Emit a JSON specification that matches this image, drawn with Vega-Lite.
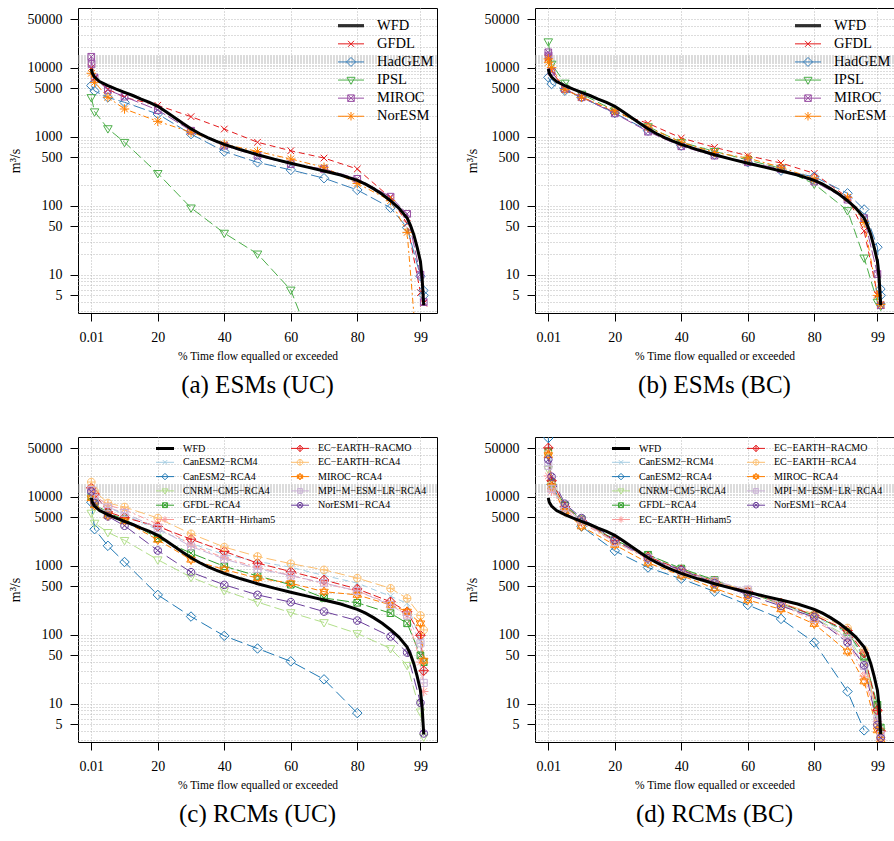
{
"$schema": "https://vega.github.io/schema/vega-lite/v6.json",
"padding": {"left": 7, "top": 7, "right": 0, "bottom": 0},
"background": "white",
"config": {
  "view": {"stroke": "black", "strokeWidth": 1},
  "font": "Liberation Serif",
  "axis": {"domain": false, "tickColor": "black", "tickSize": 8, "tickWidth": 1, "labelFont": "Liberation Serif", "labelFontSize": 14, "labelColor": "black", "titleFont": "Liberation Serif", "titleFontWeight": "normal", "titleColor": "black", "grid": true, "gridColor": "#b8b8b8", "gridDash": [1, 2], "gridWidth": 1, "labelOverlap": false, "labelFlush": false},
  "axisX": {"labelPadding": 9, "titleFontSize": 11.5, "titlePadding": 6},
  "axisY": {"labelPadding": 8, "titleFontSize": 14, "titlePadding": 5},
  "legend": {"padding": 0, "labelFont": "Liberation Serif", "labelColor": "black"}
},
"datasets": {
  "wfd": [
    {"pct":0.01,"flow":9600},{"pct":0.3,"flow":8300},{"pct":1,"flow":7300},{"pct":2.5,"flow":6300},{"pct":5,"flow":5500},{"pct":7.5,"flow":4900},{"pct":10,"flow":4400},{"pct":12.5,"flow":3950},{"pct":15,"flow":3500},{"pct":17.5,"flow":3150},{"pct":20,"flow":2750},{"pct":22.5,"flow":2300},{"pct":25,"flow":1900},{"pct":27.5,"flow":1560},{"pct":30,"flow":1300},{"pct":32.5,"flow":1110},{"pct":35,"flow":970},{"pct":37.5,"flow":860},{"pct":40,"flow":775},{"pct":45,"flow":645},{"pct":50,"flow":548},{"pct":55,"flow":472},{"pct":60,"flow":412},{"pct":65,"flow":362},{"pct":70,"flow":318},{"pct":75,"flow":278},{"pct":80,"flow":232},{"pct":82.5,"flow":205},{"pct":85,"flow":175},{"pct":87.5,"flow":146},{"pct":90,"flow":118},{"pct":92.5,"flow":92},{"pct":95,"flow":66},{"pct":96,"flow":52},{"pct":97,"flow":38},{"pct":98,"flow":25},{"pct":99,"flow":15.5},{"pct":99.5,"flow":9},{"pct":99.99,"flow":3.6}
  ],
  "esm_uc": [
    {"series":"GFDL","pct":0.01,"flow":10000},{"series":"GFDL","pct":1,"flow":7000},{"series":"GFDL","pct":5,"flow":4900},{"series":"GFDL","pct":10,"flow":3700},{"series":"GFDL","pct":20,"flow":2850},{"series":"GFDL","pct":30,"flow":1950},{"series":"GFDL","pct":40,"flow":1290},{"series":"GFDL","pct":50,"flow":830},{"series":"GFDL","pct":60,"flow":625},{"series":"GFDL","pct":70,"flow":490},{"series":"GFDL","pct":80,"flow":340},{"series":"GFDL","pct":90,"flow":130},{"series":"GFDL","pct":95,"flow":55},{"series":"GFDL","pct":99,"flow":5.5},{"series":"GFDL","pct":99.99,"flow":3.85},
    {"series":"HadGEM","pct":0.01,"flow":5500},{"series":"HadGEM","pct":1,"flow":4600},{"series":"HadGEM","pct":5,"flow":3700},{"series":"HadGEM","pct":10,"flow":3150},{"series":"HadGEM","pct":20,"flow":2130},{"series":"HadGEM","pct":30,"flow":1090},{"series":"HadGEM","pct":40,"flow":610},{"series":"HadGEM","pct":50,"flow":424},{"series":"HadGEM","pct":60,"flow":330},{"series":"HadGEM","pct":70,"flow":250},{"series":"HadGEM","pct":80,"flow":169},{"series":"HadGEM","pct":90,"flow":93},{"series":"HadGEM","pct":95,"flow":48},{"series":"HadGEM","pct":99,"flow":9.5},{"series":"HadGEM","pct":99.9,"flow":5.9},{"series":"HadGEM","pct":99.99,"flow":5.0},
    {"series":"IPSL","pct":0.01,"flow":3700},{"series":"IPSL","pct":1,"flow":2300},{"series":"IPSL","pct":5,"flow":1310},{"series":"IPSL","pct":10,"flow":830},{"series":"IPSL","pct":20,"flow":294},{"series":"IPSL","pct":30,"flow":93},{"series":"IPSL","pct":40,"flow":40},{"series":"IPSL","pct":50,"flow":20},{"series":"IPSL","pct":60,"flow":6},{"series":"IPSL","pct":70,"flow":0.35},
    {"series":"MIROC","pct":0.01,"flow":14400},{"series":"MIROC","pct":0.1,"flow":11300},{"series":"MIROC","pct":1,"flow":7240},{"series":"MIROC","pct":5,"flow":4750},{"series":"MIROC","pct":10,"flow":3800},{"series":"MIROC","pct":20,"flow":2430},{"series":"MIROC","pct":30,"flow":1220},{"series":"MIROC","pct":40,"flow":740},{"series":"MIROC","pct":50,"flow":530},{"series":"MIROC","pct":60,"flow":400},{"series":"MIROC","pct":70,"flow":340},{"series":"MIROC","pct":80,"flow":245},{"series":"MIROC","pct":90,"flow":135},{"series":"MIROC","pct":95,"flow":76},{"series":"MIROC","pct":99,"flow":10},{"series":"MIROC","pct":99.99,"flow":4},
    {"series":"NorESM","pct":0.01,"flow":8300},{"series":"NorESM","pct":1,"flow":6130},{"series":"NorESM","pct":5,"flow":3720},{"series":"NorESM","pct":10,"flow":2520},{"series":"NorESM","pct":20,"flow":1670},{"series":"NorESM","pct":30,"flow":1160},{"series":"NorESM","pct":40,"flow":780},{"series":"NorESM","pct":50,"flow":610},{"series":"NorESM","pct":60,"flow":475},{"series":"NorESM","pct":70,"flow":360},{"series":"NorESM","pct":80,"flow":210},{"series":"NorESM","pct":90,"flow":118},{"series":"NorESM","pct":95,"flow":41},{"series":"NorESM","pct":99,"flow":0.19}
  ],
  "esm_bc": [
    {"series":"GFDL","pct":0.01,"flow":14000},{"series":"GFDL","pct":1,"flow":9000},{"series":"GFDL","pct":5,"flow":4800},{"series":"GFDL","pct":10,"flow":3800},{"series":"GFDL","pct":20,"flow":2250},{"series":"GFDL","pct":30,"flow":1560},{"series":"GFDL","pct":40,"flow":957},{"series":"GFDL","pct":50,"flow":700},{"series":"GFDL","pct":60,"flow":530},{"series":"GFDL","pct":70,"flow":415},{"series":"GFDL","pct":80,"flow":294},{"series":"GFDL","pct":90,"flow":132},{"series":"GFDL","pct":95,"flow":43},{"series":"GFDL","pct":99,"flow":5.2},{"series":"GFDL","pct":99.99,"flow":3.6},
    {"series":"HadGEM","pct":0.01,"flow":7240},{"series":"HadGEM","pct":1,"flow":5800},{"series":"HadGEM","pct":5,"flow":4640},{"series":"HadGEM","pct":10,"flow":3720},{"series":"HadGEM","pct":20,"flow":2200},{"series":"HadGEM","pct":30,"flow":1220},{"series":"HadGEM","pct":40,"flow":740},{"series":"HadGEM","pct":50,"flow":549},{"series":"HadGEM","pct":60,"flow":425},{"series":"HadGEM","pct":70,"flow":322},{"series":"HadGEM","pct":80,"flow":263},{"series":"HadGEM","pct":90,"flow":151},{"series":"HadGEM","pct":95,"flow":88},{"series":"HadGEM","pct":99,"flow":25},{"series":"HadGEM","pct":99.9,"flow":6.2},{"series":"HadGEM","pct":99.99,"flow":5.0},
    {"series":"IPSL","pct":0.01,"flow":23800},{"series":"IPSL","pct":1,"flow":11300},{"series":"IPSL","pct":5,"flow":6000},{"series":"IPSL","pct":10,"flow":4150},{"series":"IPSL","pct":20,"flow":2380},{"series":"IPSL","pct":30,"flow":1400},{"series":"IPSL","pct":40,"flow":830},{"series":"IPSL","pct":50,"flow":613},{"series":"IPSL","pct":60,"flow":459},{"series":"IPSL","pct":70,"flow":348},{"series":"IPSL","pct":80,"flow":206},{"series":"IPSL","pct":90,"flow":85},{"series":"IPSL","pct":95,"flow":17.5},{"series":"IPSL","pct":99,"flow":4.0},{"series":"IPSL","pct":99.99,"flow":3.5},
    {"series":"MIROC","pct":0.01,"flow":16700},{"series":"MIROC","pct":0.1,"flow":15000},{"series":"MIROC","pct":1,"flow":8750},{"series":"MIROC","pct":5,"flow":4900},{"series":"MIROC","pct":10,"flow":3720},{"series":"MIROC","pct":20,"flow":2170},{"series":"MIROC","pct":30,"flow":1180},{"series":"MIROC","pct":40,"flow":725},{"series":"MIROC","pct":50,"flow":531},{"series":"MIROC","pct":60,"flow":425},{"series":"MIROC","pct":70,"flow":340},{"series":"MIROC","pct":80,"flow":223},{"series":"MIROC","pct":90,"flow":122},{"series":"MIROC","pct":95,"flow":66},{"series":"MIROC","pct":99,"flow":10.2},{"series":"MIROC","pct":99.99,"flow":3.6},
    {"series":"NorESM","pct":0.01,"flow":13400},{"series":"NorESM","pct":0.1,"flow":12000},{"series":"NorESM","pct":1,"flow":10000},{"series":"NorESM","pct":5,"flow":4800},{"series":"NorESM","pct":10,"flow":3720},{"series":"NorESM","pct":20,"flow":2380},{"series":"NorESM","pct":30,"flow":1370},{"series":"NorESM","pct":40,"flow":830},{"series":"NorESM","pct":50,"flow":590},{"series":"NorESM","pct":60,"flow":490},{"series":"NorESM","pct":70,"flow":360},{"series":"NorESM","pct":80,"flow":245},{"series":"NorESM","pct":90,"flow":132},{"series":"NorESM","pct":95,"flow":57},{"series":"NorESM","pct":99,"flow":5.0},{"series":"NorESM","pct":99.99,"flow":3.7}
  ],
  "rcm_uc": [
    {"series":"CanESM2−RCM4","pct":0.01,"flow":12000},{"series":"CanESM2−RCM4","pct":1,"flow":10000},{"series":"CanESM2−RCM4","pct":5,"flow":7000},{"series":"CanESM2−RCM4","pct":10,"flow":5500},{"series":"CanESM2−RCM4","pct":20,"flow":3300},{"series":"CanESM2−RCM4","pct":30,"flow":2100},{"series":"CanESM2−RCM4","pct":40,"flow":1450},{"series":"CanESM2−RCM4","pct":50,"flow":1150},{"series":"CanESM2−RCM4","pct":60,"flow":950},{"series":"CanESM2−RCM4","pct":70,"flow":720},{"series":"CanESM2−RCM4","pct":80,"flow":560},{"series":"CanESM2−RCM4","pct":90,"flow":360},{"series":"CanESM2−RCM4","pct":95,"flow":285},{"series":"CanESM2−RCM4","pct":99,"flow":80},{"series":"CanESM2−RCM4","pct":99.99,"flow":30},
    {"series":"CanESM2−RCA4","pct":0.01,"flow":8300},{"series":"CanESM2−RCA4","pct":1,"flow":3380},{"series":"CanESM2−RCA4","pct":5,"flow":1940},{"series":"CanESM2−RCA4","pct":10,"flow":1130},{"series":"CanESM2−RCA4","pct":20,"flow":377},{"series":"CanESM2−RCA4","pct":30,"flow":183},{"series":"CanESM2−RCA4","pct":40,"flow":96},{"series":"CanESM2−RCA4","pct":50,"flow":63},{"series":"CanESM2−RCA4","pct":60,"flow":41},{"series":"CanESM2−RCA4","pct":70,"flow":22.5},{"series":"CanESM2−RCA4","pct":80,"flow":7.3},
    {"series":"CNRM−CM5−RCA4","pct":0.01,"flow":5790},{"series":"CNRM−CM5−RCA4","pct":1,"flow":4140},{"series":"CNRM−CM5−RCA4","pct":5,"flow":3040},{"series":"CNRM−CM5−RCA4","pct":10,"flow":2330},{"series":"CNRM−CM5−RCA4","pct":20,"flow":1220},{"series":"CNRM−CM5−RCA4","pct":30,"flow":680},{"series":"CNRM−CM5−RCA4","pct":40,"flow":435},{"series":"CNRM−CM5−RCA4","pct":50,"flow":296},{"series":"CNRM−CM5−RCA4","pct":60,"flow":209},{"series":"CNRM−CM5−RCA4","pct":70,"flow":150},{"series":"CNRM−CM5−RCA4","pct":80,"flow":104},{"series":"CNRM−CM5−RCA4","pct":90,"flow":63},{"series":"CNRM−CM5−RCA4","pct":95,"flow":36},{"series":"CNRM−CM5−RCA4","pct":99,"flow":7.6},{"series":"CNRM−CM5−RCA4","pct":99.99,"flow":3.3},
    {"series":"GFDL−RCA4","pct":0.01,"flow":10000},{"series":"GFDL−RCA4","pct":1,"flow":8000},{"series":"GFDL−RCA4","pct":5,"flow":5800},{"series":"GFDL−RCA4","pct":10,"flow":4700},{"series":"GFDL−RCA4","pct":20,"flow":2500},{"series":"GFDL−RCA4","pct":30,"flow":1520},{"series":"GFDL−RCA4","pct":40,"flow":980},{"series":"GFDL−RCA4","pct":50,"flow":710},{"series":"GFDL−RCA4","pct":60,"flow":530},{"series":"GFDL−RCA4","pct":70,"flow":340},{"series":"GFDL−RCA4","pct":80,"flow":290},{"series":"GFDL−RCA4","pct":90,"flow":205},{"series":"GFDL−RCA4","pct":95,"flow":146},{"series":"GFDL−RCA4","pct":99,"flow":50},{"series":"GFDL−RCA4","pct":99.99,"flow":40},
    {"series":"EC−EARTH−Hirham5","pct":0.01,"flow":13000},{"series":"EC−EARTH−Hirham5","pct":1,"flow":10500},{"series":"EC−EARTH−Hirham5","pct":5,"flow":7500},{"series":"EC−EARTH−Hirham5","pct":10,"flow":6500},{"series":"EC−EARTH−Hirham5","pct":20,"flow":4000},{"series":"EC−EARTH−Hirham5","pct":30,"flow":2000},{"series":"EC−EARTH−Hirham5","pct":40,"flow":1300},{"series":"EC−EARTH−Hirham5","pct":50,"flow":950},{"series":"EC−EARTH−Hirham5","pct":60,"flow":720},{"series":"EC−EARTH−Hirham5","pct":70,"flow":550},{"series":"EC−EARTH−Hirham5","pct":80,"flow":430},{"series":"EC−EARTH−Hirham5","pct":90,"flow":280},{"series":"EC−EARTH−Hirham5","pct":95,"flow":190},{"series":"EC−EARTH−Hirham5","pct":99,"flow":40},{"series":"EC−EARTH−Hirham5","pct":99.99,"flow":15},
    {"series":"EC−EARTH−RACMO","pct":0.01,"flow":13400},{"series":"EC−EARTH−RACMO","pct":1,"flow":11000},{"series":"EC−EARTH−RACMO","pct":5,"flow":6000},{"series":"EC−EARTH−RACMO","pct":10,"flow":5000},{"series":"EC−EARTH−RACMO","pct":20,"flow":3700},{"series":"EC−EARTH−RACMO","pct":30,"flow":2420},{"series":"EC−EARTH−RACMO","pct":40,"flow":1610},{"series":"EC−EARTH−RACMO","pct":50,"flow":1090},{"series":"EC−EARTH−RACMO","pct":60,"flow":820},{"series":"EC−EARTH−RACMO","pct":70,"flow":620},{"series":"EC−EARTH−RACMO","pct":80,"flow":460},{"series":"EC−EARTH−RACMO","pct":90,"flow":300},{"series":"EC−EARTH−RACMO","pct":95,"flow":215},{"series":"EC−EARTH−RACMO","pct":99,"flow":98},{"series":"EC−EARTH−RACMO","pct":99.99,"flow":30},
    {"series":"EC−EARTH−RCA4","pct":0.01,"flow":16300},{"series":"EC−EARTH−RCA4","pct":1,"flow":12000},{"series":"EC−EARTH−RCA4","pct":5,"flow":8100},{"series":"EC−EARTH−RCA4","pct":10,"flow":7080},{"series":"EC−EARTH−RCA4","pct":20,"flow":4900},{"series":"EC−EARTH−RCA4","pct":30,"flow":2900},{"series":"EC−EARTH−RCA4","pct":40,"flow":1860},{"series":"EC−EARTH−RCA4","pct":50,"flow":1360},{"series":"EC−EARTH−RCA4","pct":60,"flow":1070},{"series":"EC−EARTH−RCA4","pct":70,"flow":870},{"series":"EC−EARTH−RCA4","pct":80,"flow":660},{"series":"EC−EARTH−RCA4","pct":90,"flow":470},{"series":"EC−EARTH−RCA4","pct":95,"flow":335},{"series":"EC−EARTH−RCA4","pct":99,"flow":190},{"series":"EC−EARTH−RCA4","pct":99.99,"flow":117},
    {"series":"MIROC−RCA4","pct":0.01,"flow":9500},{"series":"MIROC−RCA4","pct":1,"flow":7500},{"series":"MIROC−RCA4","pct":5,"flow":5300},{"series":"MIROC−RCA4","pct":10,"flow":4400},{"series":"MIROC−RCA4","pct":20,"flow":2370},{"series":"MIROC−RCA4","pct":30,"flow":1220},{"series":"MIROC−RCA4","pct":40,"flow":880},{"series":"MIROC−RCA4","pct":50,"flow":660},{"series":"MIROC−RCA4","pct":60,"flow":557},{"series":"MIROC−RCA4","pct":70,"flow":420},{"series":"MIROC−RCA4","pct":80,"flow":377},{"series":"MIROC−RCA4","pct":90,"flow":270},{"series":"MIROC−RCA4","pct":95,"flow":216},{"series":"MIROC−RCA4","pct":99,"flow":146},{"series":"MIROC−RCA4","pct":99.99,"flow":42},
    {"series":"MPI−M−ESM−LR−RCA4","pct":0.01,"flow":12500},{"series":"MPI−M−ESM−LR−RCA4","pct":1,"flow":9500},{"series":"MPI−M−ESM−LR−RCA4","pct":5,"flow":7000},{"series":"MPI−M−ESM−LR−RCA4","pct":10,"flow":5800},{"series":"MPI−M−ESM−LR−RCA4","pct":20,"flow":3500},{"series":"MPI−M−ESM−LR−RCA4","pct":30,"flow":1900},{"series":"MPI−M−ESM−LR−RCA4","pct":40,"flow":1250},{"series":"MPI−M−ESM−LR−RCA4","pct":50,"flow":900},{"series":"MPI−M−ESM−LR−RCA4","pct":60,"flow":720},{"series":"MPI−M−ESM−LR−RCA4","pct":70,"flow":560},{"series":"MPI−M−ESM−LR−RCA4","pct":80,"flow":430},{"series":"MPI−M−ESM−LR−RCA4","pct":90,"flow":270},{"series":"MPI−M−ESM−LR−RCA4","pct":95,"flow":190},{"series":"MPI−M−ESM−LR−RCA4","pct":99,"flow":75},{"series":"MPI−M−ESM−LR−RCA4","pct":99.99,"flow":20},
    {"series":"NorESM1−RCA4","pct":0.01,"flow":11900},{"series":"NorESM1−RCA4","pct":1,"flow":8090},{"series":"NorESM1−RCA4","pct":5,"flow":5180},{"series":"NorESM1−RCA4","pct":10,"flow":3790},{"series":"NorESM1−RCA4","pct":20,"flow":1660},{"series":"NorESM1−RCA4","pct":30,"flow":805},{"series":"NorESM1−RCA4","pct":40,"flow":527},{"series":"NorESM1−RCA4","pct":50,"flow":377},{"series":"NorESM1−RCA4","pct":60,"flow":296},{"series":"NorESM1−RCA4","pct":70,"flow":216},{"series":"NorESM1−RCA4","pct":80,"flow":160},{"series":"NorESM1−RCA4","pct":90,"flow":94},{"series":"NorESM1−RCA4","pct":95,"flow":55},{"series":"NorESM1−RCA4","pct":99,"flow":10.3},{"series":"NorESM1−RCA4","pct":99.99,"flow":3.7}
  ],
  "rcm_bc": [
    {"series":"CanESM2−RCM4","pct":0.01,"flow":30000},{"series":"CanESM2−RCM4","pct":1,"flow":13000},{"series":"CanESM2−RCM4","pct":5,"flow":6800},{"series":"CanESM2−RCM4","pct":10,"flow":4400},{"series":"CanESM2−RCM4","pct":20,"flow":2300},{"series":"CanESM2−RCM4","pct":30,"flow":1450},{"series":"CanESM2−RCM4","pct":40,"flow":880},{"series":"CanESM2−RCM4","pct":50,"flow":600},{"series":"CanESM2−RCM4","pct":60,"flow":420},{"series":"CanESM2−RCM4","pct":70,"flow":280},{"series":"CanESM2−RCM4","pct":80,"flow":185},{"series":"CanESM2−RCM4","pct":90,"flow":105},{"series":"CanESM2−RCM4","pct":95,"flow":45},{"series":"CanESM2−RCM4","pct":99,"flow":7},{"series":"CanESM2−RCM4","pct":99.99,"flow":3.8},
    {"series":"CanESM2−RCA4","pct":0.01,"flow":71000},{"series":"CanESM2−RCA4","pct":1,"flow":15000},{"series":"CanESM2−RCA4","pct":5,"flow":6500},{"series":"CanESM2−RCA4","pct":10,"flow":3700},{"series":"CanESM2−RCA4","pct":20,"flow":1640},{"series":"CanESM2−RCA4","pct":30,"flow":940},{"series":"CanESM2−RCA4","pct":40,"flow":645},{"series":"CanESM2−RCA4","pct":50,"flow":422},{"series":"CanESM2−RCA4","pct":60,"flow":270},{"series":"CanESM2−RCA4","pct":70,"flow":169},{"series":"CanESM2−RCA4","pct":80,"flow":77},{"series":"CanESM2−RCA4","pct":90,"flow":15},{"series":"CanESM2−RCA4","pct":95,"flow":4.1},
    {"series":"CNRM−CM5−RCA4","pct":0.01,"flow":25000},{"series":"CNRM−CM5−RCA4","pct":1,"flow":14000},{"series":"CNRM−CM5−RCA4","pct":5,"flow":7300},{"series":"CNRM−CM5−RCA4","pct":10,"flow":4600},{"series":"CNRM−CM5−RCA4","pct":20,"flow":2300},{"series":"CNRM−CM5−RCA4","pct":30,"flow":1350},{"series":"CNRM−CM5−RCA4","pct":40,"flow":880},{"series":"CNRM−CM5−RCA4","pct":50,"flow":600},{"series":"CNRM−CM5−RCA4","pct":60,"flow":420},{"series":"CNRM−CM5−RCA4","pct":70,"flow":270},{"series":"CNRM−CM5−RCA4","pct":80,"flow":175},{"series":"CNRM−CM5−RCA4","pct":90,"flow":95},{"series":"CNRM−CM5−RCA4","pct":95,"flow":40},{"series":"CNRM−CM5−RCA4","pct":99,"flow":7},{"series":"CNRM−CM5−RCA4","pct":99.99,"flow":4},
    {"series":"GFDL−RCA4","pct":0.01,"flow":45000},{"series":"GFDL−RCA4","pct":1,"flow":16000},{"series":"GFDL−RCA4","pct":5,"flow":7500},{"series":"GFDL−RCA4","pct":10,"flow":4700},{"series":"GFDL−RCA4","pct":20,"flow":2350},{"series":"GFDL−RCA4","pct":30,"flow":1440},{"series":"GFDL−RCA4","pct":40,"flow":910},{"series":"GFDL−RCA4","pct":50,"flow":620},{"series":"GFDL−RCA4","pct":60,"flow":410},{"series":"GFDL−RCA4","pct":70,"flow":280},{"series":"GFDL−RCA4","pct":80,"flow":190},{"series":"GFDL−RCA4","pct":90,"flow":110},{"series":"GFDL−RCA4","pct":95,"flow":48},{"series":"GFDL−RCA4","pct":99,"flow":9.6},{"series":"GFDL−RCA4","pct":99.99,"flow":4.5},
    {"series":"EC−EARTH−Hirham5","pct":0.01,"flow":20000},{"series":"EC−EARTH−Hirham5","pct":1,"flow":12000},{"series":"EC−EARTH−Hirham5","pct":5,"flow":6500},{"series":"EC−EARTH−Hirham5","pct":10,"flow":4200},{"series":"EC−EARTH−Hirham5","pct":20,"flow":2200},{"series":"EC−EARTH−Hirham5","pct":30,"flow":1250},{"series":"EC−EARTH−Hirham5","pct":40,"flow":800},{"series":"EC−EARTH−Hirham5","pct":50,"flow":560},{"series":"EC−EARTH−Hirham5","pct":60,"flow":430},{"series":"EC−EARTH−Hirham5","pct":70,"flow":270},{"series":"EC−EARTH−Hirham5","pct":80,"flow":160},{"series":"EC−EARTH−Hirham5","pct":90,"flow":85},{"series":"EC−EARTH−Hirham5","pct":95,"flow":25},{"series":"EC−EARTH−Hirham5","pct":99,"flow":5.5},{"series":"EC−EARTH−Hirham5","pct":99.99,"flow":3},
    {"series":"EC−EARTH−RACMO","pct":0.01,"flow":51000},{"series":"EC−EARTH−RACMO","pct":1,"flow":17000},{"series":"EC−EARTH−RACMO","pct":5,"flow":7200},{"series":"EC−EARTH−RACMO","pct":10,"flow":4500},{"series":"EC−EARTH−RACMO","pct":20,"flow":2300},{"series":"EC−EARTH−RACMO","pct":30,"flow":1350},{"series":"EC−EARTH−RACMO","pct":40,"flow":870},{"series":"EC−EARTH−RACMO","pct":50,"flow":590},{"series":"EC−EARTH−RACMO","pct":60,"flow":420},{"series":"EC−EARTH−RACMO","pct":70,"flow":290},{"series":"EC−EARTH−RACMO","pct":80,"flow":190},{"series":"EC−EARTH−RACMO","pct":90,"flow":115},{"series":"EC−EARTH−RACMO","pct":95,"flow":54},{"series":"EC−EARTH−RACMO","pct":99,"flow":8},{"series":"EC−EARTH−RACMO","pct":99.99,"flow":4},
    {"series":"EC−EARTH−RCA4","pct":0.01,"flow":42000},{"series":"EC−EARTH−RCA4","pct":1,"flow":15000},{"series":"EC−EARTH−RCA4","pct":5,"flow":7000},{"series":"EC−EARTH−RCA4","pct":10,"flow":4500},{"series":"EC−EARTH−RCA4","pct":20,"flow":2200},{"series":"EC−EARTH−RCA4","pct":30,"flow":1300},{"series":"EC−EARTH−RCA4","pct":40,"flow":820},{"series":"EC−EARTH−RCA4","pct":50,"flow":580},{"series":"EC−EARTH−RCA4","pct":60,"flow":440},{"series":"EC−EARTH−RCA4","pct":70,"flow":290},{"series":"EC−EARTH−RCA4","pct":80,"flow":200},{"series":"EC−EARTH−RCA4","pct":90,"flow":125},{"series":"EC−EARTH−RCA4","pct":95,"flow":60},{"series":"EC−EARTH−RCA4","pct":99,"flow":5},{"series":"EC−EARTH−RCA4","pct":99.99,"flow":3.3},
    {"series":"MIROC−RCA4","pct":0.01,"flow":40000},{"series":"MIROC−RCA4","pct":1,"flow":14000},{"series":"MIROC−RCA4","pct":5,"flow":6100},{"series":"MIROC−RCA4","pct":10,"flow":3700},{"series":"MIROC−RCA4","pct":20,"flow":2000},{"series":"MIROC−RCA4","pct":30,"flow":1100},{"series":"MIROC−RCA4","pct":40,"flow":720},{"series":"MIROC−RCA4","pct":50,"flow":470},{"series":"MIROC−RCA4","pct":60,"flow":318},{"series":"MIROC−RCA4","pct":70,"flow":233},{"series":"MIROC−RCA4","pct":80,"flow":143},{"series":"MIROC−RCA4","pct":90,"flow":57},{"series":"MIROC−RCA4","pct":95,"flow":21},{"series":"MIROC−RCA4","pct":99,"flow":4.1},{"series":"MIROC−RCA4","pct":99.99,"flow":3},
    {"series":"MPI−M−ESM−LR−RCA4","pct":0.01,"flow":28000},{"series":"MPI−M−ESM−LR−RCA4","pct":1,"flow":13000},{"series":"MPI−M−ESM−LR−RCA4","pct":5,"flow":7000},{"series":"MPI−M−ESM−LR−RCA4","pct":10,"flow":4500},{"series":"MPI−M−ESM−LR−RCA4","pct":20,"flow":2200},{"series":"MPI−M−ESM−LR−RCA4","pct":30,"flow":1300},{"series":"MPI−M−ESM−LR−RCA4","pct":40,"flow":840},{"series":"MPI−M−ESM−LR−RCA4","pct":50,"flow":600},{"series":"MPI−M−ESM−LR−RCA4","pct":60,"flow":450},{"series":"MPI−M−ESM−LR−RCA4","pct":70,"flow":280},{"series":"MPI−M−ESM−LR−RCA4","pct":80,"flow":170},{"series":"MPI−M−ESM−LR−RCA4","pct":90,"flow":90},{"series":"MPI−M−ESM−LR−RCA4","pct":95,"flow":35},{"series":"MPI−M−ESM−LR−RCA4","pct":99,"flow":6},{"series":"MPI−M−ESM−LR−RCA4","pct":99.99,"flow":3.5},
    {"series":"NorESM1−RCA4","pct":0.01,"flow":34500},{"series":"NorESM1−RCA4","pct":1,"flow":19500},{"series":"NorESM1−RCA4","pct":5,"flow":7900},{"series":"NorESM1−RCA4","pct":10,"flow":4900},{"series":"NorESM1−RCA4","pct":20,"flow":2370},{"series":"NorESM1−RCA4","pct":30,"flow":1280},{"series":"NorESM1−RCA4","pct":40,"flow":865},{"series":"NorESM1−RCA4","pct":50,"flow":560},{"series":"NorESM1−RCA4","pct":60,"flow":380},{"series":"NorESM1−RCA4","pct":70,"flow":260},{"series":"NorESM1−RCA4","pct":80,"flow":180},{"series":"NorESM1−RCA4","pct":90,"flow":77},{"series":"NorESM1−RCA4","pct":95,"flow":36},{"series":"NorESM1−RCA4","pct":99,"flow":4.9},{"series":"NorESM1−RCA4","pct":99.99,"flow":3.2}
  ]
},
"vconcat": [
 {"hconcat": [
  {
    "width": 359, "height": 305,
    "title": {"text": "(a) ESMs (UC)", "orient": "bottom", "font": "Liberation Serif", "fontSize": 25, "fontWeight": "normal", "color": "black", "offset": 11},
    "layer": [
      {"data": {"name": "esm_uc"}, "mark": {"type": "line", "clip": true, "strokeWidth": 1},
       "encoding": {
         "x": {"field": "pct", "type": "quantitative", "scale": {"domain": [-3.99, 103.98], "nice": false, "zero": false}, "axis": {"title": "\u0025 Time flow equalled or exceeded", "labelOverlap": false, "values": [0.01,10,20,30,40,50,60,70,80,90,99], "labelExpr": "indexof([0.01,10,20,30,40,50,60,70,80,90,99], datum.value) >= 0 ? '' + datum.value : ''"}},
         "y": {"field": "flow", "type": "quantitative", "scale": {"type": "log", "domain": [2.78, 73300], "nice": false}, "axis": {"title": "m³/s", "labelOverlap": false, "values": [3,4,5,6,7,8,9,10,20,30,40,50,60,70,80,90,100,200,300,400,500,600,700,800,900,1000,2000,3000,4000,5000,6000,7000,8000,9000,10000,10500,11000,11500,12000,12500,13000,13500,14000,14500,15000,15500,20000,30000,40000,50000], "labelExpr": "indexof([5,10,50,100,500,1000,5000,10000,50000], datum.value) >= 0 ? '' + datum.value : ''", "tickOpacity": {"condition": {"test": "indexof([5,10,50,100,500,1000,5000,10000,50000], datum.value) >= 0", "value": 1}, "value": 0}}},
         "color": {"field": "series", "type": "nominal", "scale": {"domain": ["WFD","GFDL","HadGEM","IPSL","MIROC","NorESM"], "range": ["#000000","#e41a1c","#377eb8","#4daf4a","#984ea3","#ff7f00"]},
           "legend": {"title": null, "orient": "none", "legendX": 265.75, "legendY": 10.5, "symbolSize": 100, "rowPadding": 3.1, "labelFontSize": 14.5, "labelOffset": 18.75, "symbolFillColor": "transparent", "symbolDash": [], "symbolOpacity": 1, "symbolStrokeWidth": 1,
             "symbolType": {"expr": "['M-2.6,-0.2H2.6M-2.6,0H2.6M-2.6,0.2H2.6','M-2.6,0H2.6M-0.6,-0.6L0.6,0.6M-0.6,0.6L0.6,-0.6','M-2.6,0H2.6M0,-0.9L0.9,0L0,0.9L-0.9,0Z','M-2.6,0H2.6M-0.8,-0.55H0.8L0,0.85Z','M-2.6,0H2.6M-0.65,-0.65H0.65V0.65H-0.65ZM-0.65,-0.65L0.65,0.65M-0.65,0.65L0.65,-0.65','M-2.6,0H2.6M-0.6,-0.6L0.6,0.6M-0.6,0.6L0.6,-0.6M0,-0.85V0.85'][indexof(['WFD','GFDL','HadGEM','IPSL','MIROC','NorESM'], datum.value)]"}}},
         "strokeDash": {"field": "series", "type": "nominal", "scale": {"domain": ["GFDL","HadGEM","IPSL","MIROC","NorESM"], "range": [[6,4],[12,4],[10,4],[12,3],[6,3,2,3]]}, "legend": null}
       }},
      {"data": {"name": "esm_uc"}, "mark": {"type": "point", "clip": true, "filled": false, "strokeWidth": 1, "size": 90, "opacity": 1},
       "encoding": {
         "x": {"field": "pct", "type": "quantitative"},
         "y": {"field": "flow", "type": "quantitative"},
         "color": {"field": "series", "type": "nominal"},
         "shape": {"field": "series", "type": "nominal", "scale": {"domain": ["GFDL","HadGEM","IPSL","MIROC","NorESM"], "range": ["M-0.7,-0.7L0.7,0.7M-0.7,0.7L0.7,-0.7","M0,-1L1,0L0,1L-1,0Z","M-0.9,-0.6L0.9,-0.6L0,0.95Z","M-0.7,-0.7H0.7V0.7H-0.7ZM-0.7,-0.7L0.7,0.7M-0.7,0.7L0.7,-0.7","M-0.7,-0.7L0.7,0.7M-0.7,0.7L0.7,-0.7M0,-1V1M-1,0H1"]}, "legend": null}
       }},
      {"data": {"name": "wfd"}, "mark": {"type": "line", "clip": true, "color": "black", "strokeWidth": 3},
       "encoding": {"x": {"field": "pct", "type": "quantitative"}, "y": {"field": "flow", "type": "quantitative"}}}
    ]
  },
  {
    "width": 359, "height": 305,
    "title": {"text": "(b) ESMs (BC)", "orient": "bottom", "font": "Liberation Serif", "fontSize": 25, "fontWeight": "normal", "color": "black", "offset": 11},
    "layer": [
      {"data": {"name": "esm_bc"}, "mark": {"type": "line", "clip": true, "strokeWidth": 1},
       "encoding": {
         "x": {"field": "pct", "type": "quantitative", "scale": {"domain": [-3.99, 103.98], "nice": false, "zero": false}, "axis": {"title": "\u0025 Time flow equalled or exceeded", "labelOverlap": false, "values": [0.01,10,20,30,40,50,60,70,80,90,99], "labelExpr": "indexof([0.01,10,20,30,40,50,60,70,80,90,99], datum.value) >= 0 ? '' + datum.value : ''"}},
         "y": {"field": "flow", "type": "quantitative", "scale": {"type": "log", "domain": [2.78, 73300], "nice": false}, "axis": {"title": "m³/s", "labelOverlap": false, "values": [3,4,5,6,7,8,9,10,20,30,40,50,60,70,80,90,100,200,300,400,500,600,700,800,900,1000,2000,3000,4000,5000,6000,7000,8000,9000,10000,10500,11000,11500,12000,12500,13000,13500,14000,14500,15000,15500,20000,30000,40000,50000], "labelExpr": "indexof([5,10,50,100,500,1000,5000,10000,50000], datum.value) >= 0 ? '' + datum.value : ''", "tickOpacity": {"condition": {"test": "indexof([5,10,50,100,500,1000,5000,10000,50000], datum.value) >= 0", "value": 1}, "value": 0}}},
         "color": {"field": "series", "type": "nominal", "scale": {"domain": ["WFD","GFDL","HadGEM","IPSL","MIROC","NorESM"], "range": ["#000000","#e41a1c","#377eb8","#4daf4a","#984ea3","#ff7f00"]},
           "legend": {"title": null, "orient": "none", "legendX": 265.75, "legendY": 10.5, "symbolSize": 100, "rowPadding": 3.1, "labelFontSize": 14.5, "labelOffset": 18.75, "symbolFillColor": "transparent", "symbolDash": [], "symbolOpacity": 1, "symbolStrokeWidth": 1,
             "symbolType": {"expr": "['M-2.6,-0.2H2.6M-2.6,0H2.6M-2.6,0.2H2.6','M-2.6,0H2.6M-0.6,-0.6L0.6,0.6M-0.6,0.6L0.6,-0.6','M-2.6,0H2.6M0,-0.9L0.9,0L0,0.9L-0.9,0Z','M-2.6,0H2.6M-0.8,-0.55H0.8L0,0.85Z','M-2.6,0H2.6M-0.65,-0.65H0.65V0.65H-0.65ZM-0.65,-0.65L0.65,0.65M-0.65,0.65L0.65,-0.65','M-2.6,0H2.6M-0.6,-0.6L0.6,0.6M-0.6,0.6L0.6,-0.6M0,-0.85V0.85'][indexof(['WFD','GFDL','HadGEM','IPSL','MIROC','NorESM'], datum.value)]"}}},
         "strokeDash": {"field": "series", "type": "nominal", "scale": {"domain": ["GFDL","HadGEM","IPSL","MIROC","NorESM"], "range": [[6,4],[12,4],[10,4],[12,3],[6,3,2,3]]}, "legend": null}
       }},
      {"data": {"name": "esm_bc"}, "mark": {"type": "point", "clip": true, "filled": false, "strokeWidth": 1, "size": 90, "opacity": 1},
       "encoding": {
         "x": {"field": "pct", "type": "quantitative"},
         "y": {"field": "flow", "type": "quantitative"},
         "color": {"field": "series", "type": "nominal"},
         "shape": {"field": "series", "type": "nominal", "scale": {"domain": ["GFDL","HadGEM","IPSL","MIROC","NorESM"], "range": ["M-0.7,-0.7L0.7,0.7M-0.7,0.7L0.7,-0.7","M0,-1L1,0L0,1L-1,0Z","M-0.9,-0.6L0.9,-0.6L0,0.95Z","M-0.7,-0.7H0.7V0.7H-0.7ZM-0.7,-0.7L0.7,0.7M-0.7,0.7L0.7,-0.7","M-0.7,-0.7L0.7,0.7M-0.7,0.7L0.7,-0.7M0,-1V1M-1,0H1"]}, "legend": null}
       }},
      {"data": {"name": "wfd"}, "mark": {"type": "line", "clip": true, "color": "black", "strokeWidth": 3},
       "encoding": {"x": {"field": "pct", "type": "quantitative"}, "y": {"field": "flow", "type": "quantitative"}}}
    ]
  }
 ],
 "spacing": 98,
 "bounds": "flush",
 "resolve": {"scale": {"color": "independent", "shape": "independent", "strokeDash": "independent", "x": "independent", "y": "independent"}, "legend": {"color": "independent"}}
 },
 {"hconcat": [
  {
    "width": 359, "height": 305,
    "title": {"text": "(c) RCMs (UC)", "orient": "bottom", "font": "Liberation Serif", "fontSize": 25, "fontWeight": "normal", "color": "black", "offset": 11},
    "layer": [
      {"data": {"name": "rcm_uc"}, "mark": {"type": "line", "clip": true, "strokeWidth": 1},
       "encoding": {
         "x": {"field": "pct", "type": "quantitative", "scale": {"domain": [-3.99, 103.98], "nice": false, "zero": false}, "axis": {"title": "\u0025 Time flow equalled or exceeded", "labelOverlap": false, "values": [0.01,10,20,30,40,50,60,70,80,90,99], "labelExpr": "indexof([0.01,10,20,30,40,50,60,70,80,90,99], datum.value) >= 0 ? '' + datum.value : ''"}},
         "y": {"field": "flow", "type": "quantitative", "scale": {"type": "log", "domain": [2.78, 73300], "nice": false}, "axis": {"title": "m³/s", "labelOverlap": false, "values": [3,4,5,6,7,8,9,10,20,30,40,50,60,70,80,90,100,200,300,400,500,600,700,800,900,1000,2000,3000,4000,5000,6000,7000,8000,9000,10000,10500,11000,11500,12000,12500,13000,13500,14000,14500,15000,15500,20000,30000,40000,50000], "labelExpr": "indexof([5,10,50,100,500,1000,5000,10000,50000], datum.value) >= 0 ? '' + datum.value : ''", "tickOpacity": {"condition": {"test": "indexof([5,10,50,100,500,1000,5000,10000,50000], datum.value) >= 0", "value": 1}, "value": 0}}},
         "color": {"field": "series", "type": "nominal", "scale": {"domain": ["WFD","CanESM2−RCM4","CanESM2−RCA4","CNRM−CM5−RCA4","GFDL−RCA4","EC−EARTH−Hirham5","EC−EARTH−RACMO","EC−EARTH−RCA4","MIROC−RCA4","MPI−M−ESM−LR−RCA4","NorESM1−RCA4"], "range": ["#000000","#a6cee3","#1f78b4","#b2df8a","#33a02c","#fb9a99","#e31a1c","#fdbf6f","#ff7f00","#cab2d6","#6a3d9a"]},
           "legend": {"title": null, "orient": "none", "legendX": 82, "legendY": 6, "columns": 2, "direction": "vertical", "columnPadding": 13, "symbolSize": 64, "rowPadding": 3.3, "labelFontSize": 10, "labelOffset": 13, "symbolFillColor": "transparent", "symbolDash": [], "symbolOpacity": 1, "symbolStrokeWidth": 1,
             "symbolType": {"expr": "['M-2.25,-0.25H2.25M-2.25,0H2.25M-2.25,0.25H2.25','M-2.25,0H2.25M-0.55,-0.55L0.55,0.55M-0.55,0.55L0.55,-0.55','M-2.25,0H2.25M0,-0.8L0.8,0L0,0.8L-0.8,0Z','M-2.25,0H2.25M-0.75,-0.5H0.75L0,0.8Z','M-2.25,0H2.25M-0.6,-0.6H0.6V0.6H-0.6ZM-0.6,-0.6L0.6,0.6M-0.6,0.6L0.6,-0.6','M-2.25,0H2.25M-0.55,-0.55L0.55,0.55M-0.55,0.55L0.55,-0.55M0,-0.8V0.8','M-2.25,0H2.25M0,-0.8L0.8,0L0,0.8L-0.8,0ZM0,-0.8V0.8','M-2.25,0H2.25M-0.7,0A0.7,0.7 0 1,0 0.7,0A0.7,0.7 0 1,0 -0.7,0ZM0,-0.7V0.7','M-2.25,0H2.25M-0.75,0.4H0.75L0,-0.85ZM-0.75,-0.4H0.75L0,0.85Z','M-2.25,0H2.25M-0.6,-0.6H0.6V0.6H-0.6ZM0,-0.6V0.6','M-2.25,0H2.25M-0.7,0A0.7,0.7 0 1,0 0.7,0A0.7,0.7 0 1,0 -0.7,0ZM-0.5,-0.5L0.5,0.5M-0.5,0.5L0.5,-0.5'][indexof(['WFD','CanESM2−RCM4','CanESM2−RCA4','CNRM−CM5−RCA4','GFDL−RCA4','EC−EARTH−Hirham5','EC−EARTH−RACMO','EC−EARTH−RCA4','MIROC−RCA4','MPI−M−ESM−LR−RCA4','NorESM1−RCA4'], datum.value)]"}}},
         "strokeDash": {"field": "series", "type": "nominal", "scale": {"domain": ["CanESM2−RCM4","CanESM2−RCA4","CNRM−CM5−RCA4","GFDL−RCA4","EC−EARTH−Hirham5","EC−EARTH−RACMO","EC−EARTH−RCA4","MIROC−RCA4","MPI−M−ESM−LR−RCA4","NorESM1−RCA4"], "range": [[6,4],[12,5],[10,4],[12,3],[6,3,2,3],[8,3],[10,4],[6,3],[10,3],[12,5]]}, "legend": null}
       }},
      {"data": {"name": "rcm_uc"}, "mark": {"type": "point", "clip": true, "filled": false, "strokeWidth": 1, "size": 90, "opacity": 1},
       "encoding": {
         "x": {"field": "pct", "type": "quantitative"},
         "y": {"field": "flow", "type": "quantitative"},
         "color": {"field": "series", "type": "nominal"},
         "shape": {"field": "series", "type": "nominal", "scale": {"domain": ["CanESM2−RCM4","CanESM2−RCA4","CNRM−CM5−RCA4","GFDL−RCA4","EC−EARTH−Hirham5","EC−EARTH−RACMO","EC−EARTH−RCA4","MIROC−RCA4","MPI−M−ESM−LR−RCA4","NorESM1−RCA4"], "range": ["M-0.7,-0.7L0.7,0.7M-0.7,0.7L0.7,-0.7","M0,-1L1,0L0,1L-1,0Z","M-0.9,-0.6L0.9,-0.6L0,0.95Z","M-0.7,-0.7H0.7V0.7H-0.7ZM-0.7,-0.7L0.7,0.7M-0.7,0.7L0.7,-0.7","M-0.7,-0.7L0.7,0.7M-0.7,0.7L0.7,-0.7M0,-1V1M-1,0H1","M0,-1L1,0L0,1L-1,0ZM0,-1V1M-1,0H1","M-0.8,0A0.8,0.8 0 1,0 0.8,0A0.8,0.8 0 1,0 -0.8,0ZM0,-0.8V0.8M-0.8,0H0.8","M-0.9,0.5H0.9L0,-1ZM-0.9,-0.5H0.9L0,1Z","M-0.75,-0.75H0.75V0.75H-0.75ZM0,-0.75V0.75M-0.75,0H0.75","M-0.8,0A0.8,0.8 0 1,0 0.8,0A0.8,0.8 0 1,0 -0.8,0ZM-0.57,-0.57L0.57,0.57M-0.57,0.57L0.57,-0.57"]}, "legend": null}
       }},
      {"data": {"name": "wfd"}, "mark": {"type": "line", "clip": true, "color": "black", "strokeWidth": 3},
       "encoding": {"x": {"field": "pct", "type": "quantitative"}, "y": {"field": "flow", "type": "quantitative"}}}
    ]
  },
  {
    "width": 359, "height": 305,
    "title": {"text": "(d) RCMs (BC)", "orient": "bottom", "font": "Liberation Serif", "fontSize": 25, "fontWeight": "normal", "color": "black", "offset": 11},
    "layer": [
      {"data": {"name": "rcm_bc"}, "mark": {"type": "line", "clip": true, "strokeWidth": 1},
       "encoding": {
         "x": {"field": "pct", "type": "quantitative", "scale": {"domain": [-3.99, 103.98], "nice": false, "zero": false}, "axis": {"title": "\u0025 Time flow equalled or exceeded", "labelOverlap": false, "values": [0.01,10,20,30,40,50,60,70,80,90,99], "labelExpr": "indexof([0.01,10,20,30,40,50,60,70,80,90,99], datum.value) >= 0 ? '' + datum.value : ''"}},
         "y": {"field": "flow", "type": "quantitative", "scale": {"type": "log", "domain": [2.78, 73300], "nice": false}, "axis": {"title": "m³/s", "labelOverlap": false, "values": [3,4,5,6,7,8,9,10,20,30,40,50,60,70,80,90,100,200,300,400,500,600,700,800,900,1000,2000,3000,4000,5000,6000,7000,8000,9000,10000,10500,11000,11500,12000,12500,13000,13500,14000,14500,15000,15500,20000,30000,40000,50000], "labelExpr": "indexof([5,10,50,100,500,1000,5000,10000,50000], datum.value) >= 0 ? '' + datum.value : ''", "tickOpacity": {"condition": {"test": "indexof([5,10,50,100,500,1000,5000,10000,50000], datum.value) >= 0", "value": 1}, "value": 0}}},
         "color": {"field": "series", "type": "nominal", "scale": {"domain": ["WFD","CanESM2−RCM4","CanESM2−RCA4","CNRM−CM5−RCA4","GFDL−RCA4","EC−EARTH−Hirham5","EC−EARTH−RACMO","EC−EARTH−RCA4","MIROC−RCA4","MPI−M−ESM−LR−RCA4","NorESM1−RCA4"], "range": ["#000000","#a6cee3","#1f78b4","#b2df8a","#33a02c","#fb9a99","#e31a1c","#fdbf6f","#ff7f00","#cab2d6","#6a3d9a"]},
           "legend": {"title": null, "orient": "none", "legendX": 81, "legendY": 6, "columns": 2, "direction": "vertical", "columnPadding": 13, "symbolSize": 64, "rowPadding": 3.3, "labelFontSize": 10, "labelOffset": 13, "symbolFillColor": "transparent", "symbolDash": [], "symbolOpacity": 1, "symbolStrokeWidth": 1,
             "symbolType": {"expr": "['M-2.25,-0.25H2.25M-2.25,0H2.25M-2.25,0.25H2.25','M-2.25,0H2.25M-0.55,-0.55L0.55,0.55M-0.55,0.55L0.55,-0.55','M-2.25,0H2.25M0,-0.8L0.8,0L0,0.8L-0.8,0Z','M-2.25,0H2.25M-0.75,-0.5H0.75L0,0.8Z','M-2.25,0H2.25M-0.6,-0.6H0.6V0.6H-0.6ZM-0.6,-0.6L0.6,0.6M-0.6,0.6L0.6,-0.6','M-2.25,0H2.25M-0.55,-0.55L0.55,0.55M-0.55,0.55L0.55,-0.55M0,-0.8V0.8','M-2.25,0H2.25M0,-0.8L0.8,0L0,0.8L-0.8,0ZM0,-0.8V0.8','M-2.25,0H2.25M-0.7,0A0.7,0.7 0 1,0 0.7,0A0.7,0.7 0 1,0 -0.7,0ZM0,-0.7V0.7','M-2.25,0H2.25M-0.75,0.4H0.75L0,-0.85ZM-0.75,-0.4H0.75L0,0.85Z','M-2.25,0H2.25M-0.6,-0.6H0.6V0.6H-0.6ZM0,-0.6V0.6','M-2.25,0H2.25M-0.7,0A0.7,0.7 0 1,0 0.7,0A0.7,0.7 0 1,0 -0.7,0ZM-0.5,-0.5L0.5,0.5M-0.5,0.5L0.5,-0.5'][indexof(['WFD','CanESM2−RCM4','CanESM2−RCA4','CNRM−CM5−RCA4','GFDL−RCA4','EC−EARTH−Hirham5','EC−EARTH−RACMO','EC−EARTH−RCA4','MIROC−RCA4','MPI−M−ESM−LR−RCA4','NorESM1−RCA4'], datum.value)]"}}},
         "strokeDash": {"field": "series", "type": "nominal", "scale": {"domain": ["CanESM2−RCM4","CanESM2−RCA4","CNRM−CM5−RCA4","GFDL−RCA4","EC−EARTH−Hirham5","EC−EARTH−RACMO","EC−EARTH−RCA4","MIROC−RCA4","MPI−M−ESM−LR−RCA4","NorESM1−RCA4"], "range": [[6,4],[12,5],[10,4],[12,3],[6,3,2,3],[8,3],[10,4],[6,3],[10,3],[12,5]]}, "legend": null}
       }},
      {"data": {"name": "rcm_bc"}, "mark": {"type": "point", "clip": true, "filled": false, "strokeWidth": 1, "size": 90, "opacity": 1},
       "encoding": {
         "x": {"field": "pct", "type": "quantitative"},
         "y": {"field": "flow", "type": "quantitative"},
         "color": {"field": "series", "type": "nominal"},
         "shape": {"field": "series", "type": "nominal", "scale": {"domain": ["CanESM2−RCM4","CanESM2−RCA4","CNRM−CM5−RCA4","GFDL−RCA4","EC−EARTH−Hirham5","EC−EARTH−RACMO","EC−EARTH−RCA4","MIROC−RCA4","MPI−M−ESM−LR−RCA4","NorESM1−RCA4"], "range": ["M-0.7,-0.7L0.7,0.7M-0.7,0.7L0.7,-0.7","M0,-1L1,0L0,1L-1,0Z","M-0.9,-0.6L0.9,-0.6L0,0.95Z","M-0.7,-0.7H0.7V0.7H-0.7ZM-0.7,-0.7L0.7,0.7M-0.7,0.7L0.7,-0.7","M-0.7,-0.7L0.7,0.7M-0.7,0.7L0.7,-0.7M0,-1V1M-1,0H1","M0,-1L1,0L0,1L-1,0ZM0,-1V1M-1,0H1","M-0.8,0A0.8,0.8 0 1,0 0.8,0A0.8,0.8 0 1,0 -0.8,0ZM0,-0.8V0.8M-0.8,0H0.8","M-0.9,0.5H0.9L0,-1ZM-0.9,-0.5H0.9L0,1Z","M-0.75,-0.75H0.75V0.75H-0.75ZM0,-0.75V0.75M-0.75,0H0.75","M-0.8,0A0.8,0.8 0 1,0 0.8,0A0.8,0.8 0 1,0 -0.8,0ZM-0.57,-0.57L0.57,0.57M-0.57,0.57L0.57,-0.57"]}, "legend": null}
       }},
      {"data": {"name": "wfd"}, "mark": {"type": "line", "clip": true, "color": "black", "strokeWidth": 3},
       "encoding": {"x": {"field": "pct", "type": "quantitative"}, "y": {"field": "flow", "type": "quantitative"}}}
    ]
  }
 ],
 "spacing": 98,
 "bounds": "flush",
 "resolve": {"scale": {"color": "independent", "shape": "independent", "strokeDash": "independent", "x": "independent", "y": "independent"}, "legend": {"color": "independent"}}
 }
],
"spacing": 38,
"resolve": {"scale": {"color": "independent", "shape": "independent", "strokeDash": "independent", "x": "independent", "y": "independent"}, "legend": {"color": "independent"}}
}
